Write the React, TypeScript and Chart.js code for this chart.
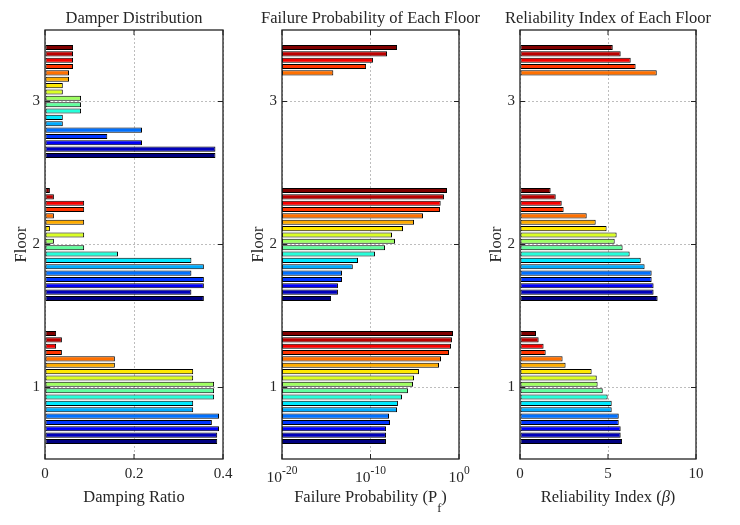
import React, { useEffect, useRef } from 'react';
import { Chart, registerables } from 'chart.js';

Chart.register(...registerables);

// ---------- data ----------
const FLOORS = ['1', '2', '3'];

// series 1 (bottom bar of each floor group) ... series 18 (top bar)
const SERIES_COLORS = [
  '#000080', '#0000bb', '#0000f7', '#0035ff', '#0070ff', '#00acff',
  '#00e9ff', '#25ffda', '#61ff9e', '#9eff61', '#daff25', '#ffe900',
  '#ffac00', '#ff7000', '#ff3500', '#f70000', '#bb0000', '#800000',
];

// Damping ratio, series 1..18 (bottom -> top inside each floor group)
const DAMPING_FLOOR1 = [0.387, 0.387, 0.391, 0.375, 0.391, 0.333, 0.333, 0.380, 0.380, 0.380, 0.333, 0.333, 0.157, 0.157, 0.038, 0.025, 0.038, 0.025];
const DAMPING_FLOOR2 = [0.357, 0.329, 0.357, 0.357, 0.329, 0.357, 0.329, 0.164, 0.088, 0.020, 0.088, 0.011, 0.088, 0.020, 0.088, 0.088, 0.020, 0.011];
const DAMPING_FLOOR3 = [0.383, 0.383, 0.218, 0.140, 0.218, 0.040, 0.040, 0.081, 0.081, 0.081, 0.040, 0.040, 0.054, 0.054, 0.063, 0.063, 0.063, 0.063];

// Failure probability Pf
const PF_FLOOR1 = [5.6e-9, 5.6e-9, 5.6e-9, 1.6e-8, 1.23e-8, 1.0e-7, 1.26e-7, 3.6e-7, 1.7e-6, 6.3e-6, 8.3e-6, 3.0e-5, 5.5e-3, 9.3e-3, 0.074, 0.126, 0.16, 0.21];
const PF_FLOOR2 = [3.5e-15, 2.1e-14, 2.1e-14, 6.0e-14, 6.0e-14, 1.0e-12, 3.9e-12, 3.2e-10, 4.4e-9, 5.9e-8, 2.7e-8, 4.7e-7, 8.3e-6, 8.5e-5, 7.1e-3, 8.5e-3, 2.0e-2, 4.4e-2];
const PF_FLOOR3 = [null, null, null, null, null, null, null, null, null, null, null, null, null, 6.3e-15, 3.2e-11, 1.9e-10, 7.4e-9, 1.0e-7];

// Reliability index beta
const BETA_FLOOR1 = [5.80, 5.72, 5.72, 5.61, 5.61, 5.21, 5.21, 4.98, 4.70, 4.41, 4.36, 4.07, 2.59, 2.42, 1.46, 1.34, 1.06, 0.91];
const BETA_FLOOR2 = [7.82, 7.59, 7.59, 7.48, 7.48, 7.08, 6.86, 6.23, 5.83, 5.38, 5.49, 4.92, 4.30, 3.79, 2.48, 2.37, 2.03, 1.74];
const BETA_FLOOR3 = [null, null, null, null, null, null, null, null, null, null, null, null, null, 7.77, 6.57, 6.29, 5.72, 5.27];

// tick values / labels
const DAMPING_TICKS = [0, 0.2, 0.4];
const PF_TICKS = [1e-20, 1e-10, 1];
const PF_TICK_EXPONENTS = ['-20', '-10', '0'];
const BETA_TICKS = [0, 5, 10];

// ---------- styling ----------
const FAMILY = 'Liberation Serif';
const FONT = '"Liberation Serif", "Times New Roman", serif';
const TEXT = '#262626';
const GRID = '#bdbdbd';
const AXIS = '#222222';
const W = 740;
const H = 525;
const PLOT_TOP = 30;
const PLOT_BOTTOM = 459;
const Y_AXIS_W = 45;
const X_AXIS_H = 50;

type Seg = { t: string; italic?: boolean; sub?: boolean; sup?: boolean };

function drawRich(
  ctx: CanvasRenderingContext2D,
  segs: Seg[],
  cx: number,
  baseline: number,
  size: number,
  small: number,
  subDy: number,
  supDy: number,
) {
  const fontOf = (s: Seg) => `${s.italic ? 'italic ' : ''}${s.sub || s.sup ? small : size}px ${FONT}`;
  const widths = segs.map((s) => {
    ctx.font = fontOf(s);
    return ctx.measureText(s.t).width;
  });
  const total = widths.reduce((a, b) => a + b, 0);
  let x = cx - total / 2;
  ctx.textAlign = 'left';
  ctx.textBaseline = 'alphabetic';
  segs.forEach((s, i) => {
    ctx.font = fontOf(s);
    ctx.fillText(s.t, x, baseline + (s.sub ? subDy : s.sup ? -supDy : 0));
    x += widths[i];
  });
}

type PanelSpec = {
  title: string;
  xTitle: Seg[];
  left: number;
  right: number;
  xType: 'linear' | 'logarithmic';
  min: number;
  max: number;
  ticks: number[];
  expLabels?: string[];
  floors: (number | null)[][]; // [floor1, floor2, floor3]
};

const PANELS: PanelSpec[] = [
  {
    title: 'Damper Distribution',
    xTitle: [{ t: 'Damping Ratio' }],
    left: 45, right: 223,
    xType: 'linear', min: 0, max: 0.4, ticks: DAMPING_TICKS,
    floors: [DAMPING_FLOOR1, DAMPING_FLOOR2, DAMPING_FLOOR3],
  },
  {
    title: 'Failure Probability of Each Floor',
    xTitle: [{ t: 'Failure Probability (P' }, { t: 'f', sub: true }, { t: ')' }],
    left: 282, right: 459,
    xType: 'logarithmic', min: 1e-20, max: 1, ticks: PF_TICKS, expLabels: PF_TICK_EXPONENTS,
    floors: [PF_FLOOR1, PF_FLOOR2, PF_FLOOR3],
  },
  {
    title: 'Reliability Index of Each Floor',
    xTitle: [{ t: 'Reliability Index (' }, { t: 'β', italic: true }, { t: ')' }],
    left: 520, right: 696,
    xType: 'linear', min: 0, max: 10, ticks: BETA_TICKS,
    floors: [BETA_FLOOR1, BETA_FLOOR2, BETA_FLOOR3],
  },
];

function buildConfig(spec: PanelSpec): any {
  const labels = [...FLOORS].reverse(); // top to bottom: 3, 2, 1
  const datasets = SERIES_COLORS.map((color, s) => ({
    label: `Series ${s + 1}`,
    data: labels.map((f) => spec.floors[Number(f) - 1][s]),
    backgroundColor: color,
    borderColor: '#000000',
    borderWidth: 1,
    borderSkipped: false,
    categoryPercentage: 0.8,
    barPercentage: 0.8,
  })).reverse(); // top bar of each group first

  const decor = {
    id: 'decor' + spec.left,
    afterDatasetsDraw(chart: any) {
      const { ctx, chartArea: a } = chart;
      const xs = chart.scales.x;
      const ys = chart.scales.y;
      ctx.save();
      ctx.strokeStyle = AXIS;
      ctx.lineWidth = 1;
      ctx.beginPath();
      xs.ticks.forEach((t: any) => {
        const px = xs.getPixelForValue(t.value);
        ctx.moveTo(px, a.top); ctx.lineTo(px, a.top + 5);
        ctx.moveTo(px, a.bottom); ctx.lineTo(px, a.bottom - 5);
      });
      ys.ticks.forEach((_t: any, i: number) => {
        const py = ys.getPixelForTick(i);
        ctx.moveTo(a.left, py); ctx.lineTo(a.left + 5, py);
        ctx.moveTo(a.right, py); ctx.lineTo(a.right - 5, py);
      });
      ctx.stroke();
      ctx.lineWidth = 1.3;
      ctx.strokeRect(a.left, a.top, a.right - a.left, a.bottom - a.top);
      ctx.restore();
    },
    afterDraw(chart: any) {
      const { ctx, chartArea: a } = chart;
      const xs = chart.scales.x;
      const cx = (a.left + a.right) / 2;
      ctx.save();
      ctx.fillStyle = TEXT;
      drawRich(ctx, [{ t: spec.title }], cx, 23, 16.5, 12, 0, 0);
      drawRich(ctx, spec.xTitle, cx, 502, 16.5, 12.5, 10, 0);
      if (spec.expLabels) {
        spec.ticks.forEach((v, i) => {
          const px = xs.getPixelForValue(v);
          drawRich(ctx, [{ t: '10' }, { t: spec.expLabels![i], sup: true }], px, 482, 15.5, 11.5, 0, 8);
        });
      }
      ctx.restore();
    },
  };

  return {
    type: 'bar',
    data: { labels, datasets },
    plugins: [decor],
    options: {
      indexAxis: 'y',
      responsive: false,
      animation: false,
      devicePixelRatio: 1,
      events: [],
      layout: {
        autoPadding: false,
        padding: { left: spec.left - Y_AXIS_W, right: W - spec.right, top: PLOT_TOP, bottom: H - PLOT_BOTTOM - X_AXIS_H },
      },
      plugins: { legend: { display: false }, tooltip: { enabled: false }, title: { display: false } },
      scales: {
        x: {
          type: spec.xType,
          min: spec.min,
          max: spec.max,
          afterBuildTicks: (sc: any) => { sc.ticks = spec.ticks.map((v) => ({ value: v })); },
          afterFit: (sc: any) => { sc.height = X_AXIS_H; sc.paddingLeft = 0; sc.paddingRight = 0; },
          grid: { color: GRID, lineWidth: 1, drawTicks: false },
          border: { display: false, dash: [2, 2] },
          ticks: {
            display: !spec.expLabels,
            font: { family: FAMILY, size: 15 },
            color: TEXT,
            padding: 6.5,
            maxRotation: 0,
            autoSkip: false,
            callback: (v: any) => String(v),
          },
        },
        y: {
          type: 'category',
          offset: true,
          afterFit: (sc: any) => { sc.width = Y_AXIS_W; sc.paddingTop = 0; sc.paddingBottom = 0; },
          grid: { color: GRID, lineWidth: 1, drawTicks: false, offset: false },
          border: { display: false, dash: [2, 2] },
          ticks: { font: { family: FAMILY, size: 15 }, color: TEXT, padding: 5 },
          title: {
            display: true,
            text: 'Floor',
            font: { family: FAMILY, size: 16.5 },
            color: TEXT,
            padding: { top: 12, bottom: 0 },
          },
        },
      },
    },
  };
}

function Panel({ spec }: { spec: PanelSpec }) {
  const ref = useRef<HTMLCanvasElement>(null);
  useEffect(() => {
    const chart = new Chart(ref.current as HTMLCanvasElement, buildConfig(spec));
    return () => chart.destroy();
  }, [spec]);
  return (
    <canvas
      ref={ref}
      width={W}
      height={H}
      style={{ position: 'absolute', left: 0, top: 0, width: W, height: H }}
    />
  );
}

export default function App() {
  return (
    <div style={{ position: 'absolute', left: 0, top: 0, width: W, height: H, background: '#ffffff', overflow: 'hidden' }}>
      {PANELS.map((p) => (
        <Panel key={p.title} spec={p} />
      ))}
    </div>
  );
}
